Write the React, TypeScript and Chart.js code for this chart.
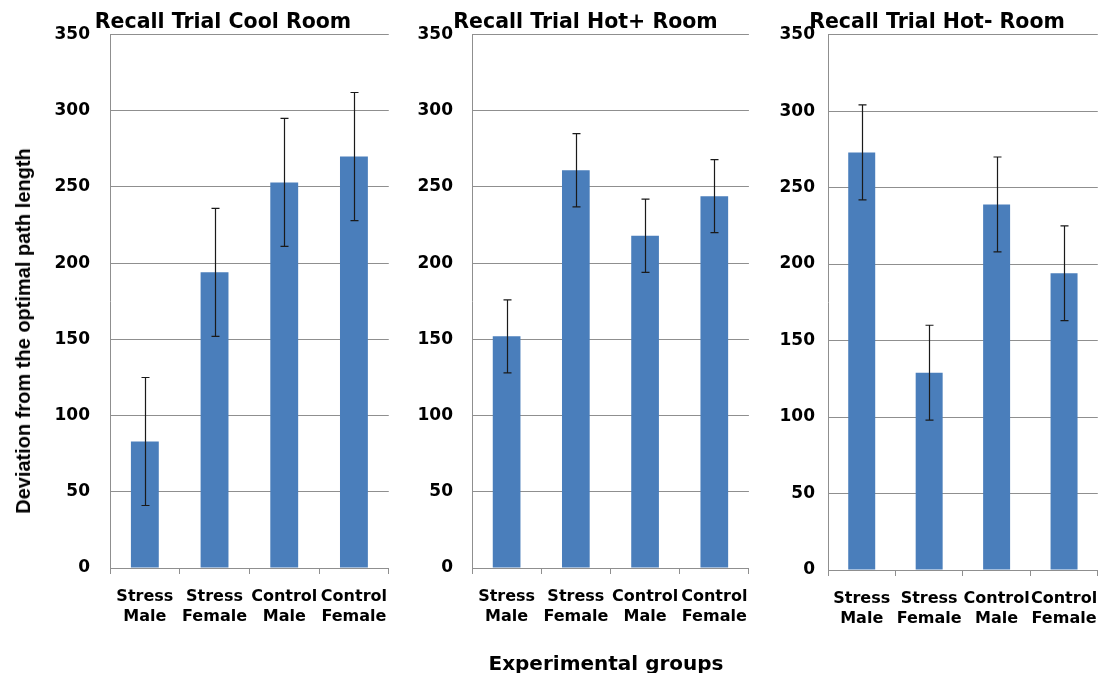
import React, { useEffect, useRef } from "react";
import { Chart, registerables } from "chart.js";

Chart.register(...registerables);

// ---- data ----
const categories: string[][] = [
  ["Stress", "Male"],
  ["Stress", "Female"],
  ["Control", "Male"],
  ["Control", "Female"],
];
const coolValues = [83, 194, 253, 270];
const coolErrors = [42, 42, 42, 42];
const hotPlusValues = [152, 261, 218, 244];
const hotPlusErrors = [24, 24, 24, 24];
const hotMinusValues = [273, 129, 239, 194];
const hotMinusErrors = [31, 31, 31, 31];
const panelTitles = ["Recall Trial Cool Room", "Recall Trial Hot+ Room", "Recall Trial Hot- Room"];
const yMin = 0;
const yMax = 350;
const yStep = 50;
const yAxisTitle = "Deviation from the optimal path length";
const xAxisTitle = "Experimental groups";

const BAR = "#4a7ebb";
const GRID = "#8f8f8f";
const TICK_FONT = "'DejaVu Sans', Verdana, sans-serif";

const errorBarPlugin = {
  id: "errorBars",
  afterDatasetsDraw(chart: any) {
    const errs: number[] = chart.options.plugins.errorBars?.errors || [];
    const meta = chart.getDatasetMeta(0);
    const ys = chart.scales.y;
    const ctx = chart.ctx;
    const vals = chart.data.datasets[0].data as number[];
    ctx.save();
    ctx.strokeStyle = "#1a1a1a";
    ctx.lineWidth = 1.2;
    meta.data.forEach((bar: any, i: number) => {
      const v = vals[i];
      const e = errs[i] || 0;
      const x = Math.round(bar.x) + 0.5;
      const yt = ys.getPixelForValue(v + e);
      const yb = ys.getPixelForValue(v - e);
      ctx.beginPath();
      ctx.moveTo(x, yt);
      ctx.lineTo(x, yb);
      ctx.moveTo(x - 4, yt);
      ctx.lineTo(x + 4, yt);
      ctx.moveTo(x - 4, yb);
      ctx.lineTo(x + 4, yb);
      ctx.stroke();
    });
    ctx.restore();
  },
};

type PanelProps = {
  title: string;
  values: number[];
  errors: number[];
  left: number;
  width: number;
  padLeft: number;
  padRight: number;
  yWidth: number;
  xHeight: number;
  tickPad: number;
};

function Panel(p: PanelProps) {
  const ref = useRef<HTMLCanvasElement | null>(null);
  useEffect(() => {
    if (!ref.current) return;
    const chart = new Chart(ref.current, {
      type: "bar",
      data: {
        labels: categories,
        datasets: [
          {
            data: p.values,
            backgroundColor: BAR,
            borderWidth: 0,
            barPercentage: 0.4,
            categoryPercentage: 1,
          },
        ],
      },
      options: {
        responsive: false,
        animation: false,
        events: [],
        layout: { padding: { left: p.padLeft, right: p.padRight, top: 0, bottom: 0 } },
        plugins: {
          legend: { display: false },
          tooltip: { enabled: false },
          title: {
            display: true,
            text: p.title,
            color: "#000",
            font: { family: TICK_FONT, size: 20.5, weight: "bold", lineHeight: 1.2 },
            padding: { top: 10, bottom: 0 },
          },
          errorBars: { errors: p.errors },
        } as any,
        scales: {
          x: {
            grid: {
              drawOnChartArea: false,
              drawTicks: true,
              tickLength: 6,
              color: GRID,
            },
            border: { display: true, color: GRID, width: 1 },
            ticks: {
              color: "#000",
              font: { family: TICK_FONT, size: 16, weight: "bold", lineHeight: 1.3 },
              padding: 12,
              maxRotation: 0,
              autoSkip: false,
            },
            afterFit: (s: any) => {
              s.height = p.xHeight;
            },
          },
          y: {
            min: yMin,
            max: yMax,
            grid: { color: GRID, drawTicks: false, lineWidth: 1 },
            border: { display: true, color: GRID, width: 1 },
            ticks: {
              stepSize: yStep,
              color: "#000",
              font: { family: TICK_FONT, size: 17, weight: "bold" },
              padding: p.tickPad,
            },
            afterFit: (s: any) => {
              s.width = p.yWidth;
            },
          },
        },
      },
      plugins: [errorBarPlugin],
    });
    return () => chart.destroy();
  }, []);
  return (
    <canvas
      ref={ref}
      width={p.width}
      height={673}
      style={{ position: "absolute", left: p.left, top: 0, width: p.width, height: 673, display: "block" }}
    />
  );
}

export default function App() {
  return (
    <div
      style={{
        position: "absolute",
        left: 0,
        top: 0,
        width: 1110,
        height: 673,
        background: "#fff",
        overflow: "hidden",
      }}
    >
      <Panel
        title={panelTitles[0]}
        values={coolValues}
        errors={coolErrors}
        left={0}
        width={400}
        padLeft={54}
        padRight={8}
        yWidth={56}
        xHeight={105}
        tickPad={20}
      />
      <Panel
        title={panelTitles[1]}
        values={hotPlusValues}
        errors={hotPlusErrors}
        left={400}
        width={360}
        padLeft={16}
        padRight={5}
        yWidth={56}
        xHeight={105}
        tickPad={19}
      />
      <Panel
        title={panelTitles[2]}
        values={hotMinusValues}
        errors={hotMinusErrors}
        left={760}
        width={350}
        padLeft={11}
        padRight={7}
        yWidth={57}
        xHeight={103}
        tickPad={13}
      />
      <div
        style={{
          position: "absolute",
          left: 23,
          top: 331,
          transform: "translate(-50%, -50%) rotate(-90deg)",
          whiteSpace: "nowrap",
          fontFamily: "'Liberation Sans', Arial, sans-serif",
          fontWeight: "bold",
          fontSize: 20,
          color: "#000",
          lineHeight: 1,
        }}
      >
        {yAxisTitle}
      </div>
      <div
        style={{
          position: "absolute",
          left: 606,
          top: 663,
          transform: "translate(-50%, -50%)",
          whiteSpace: "nowrap",
          fontFamily: TICK_FONT,
          fontWeight: "bold",
          fontSize: 20,
          color: "#000",
          lineHeight: 1,
        }}
      >
        {xAxisTitle}
      </div>
    </div>
  );
}
